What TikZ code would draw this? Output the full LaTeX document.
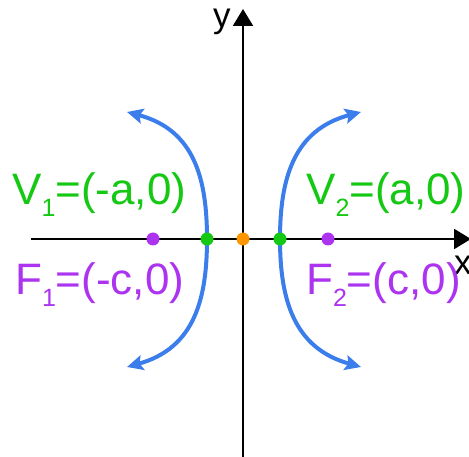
\documentclass[tikz,border=0pt]{standalone}
\usepackage{fontspec}
\setmainfont{Liberation Sans}
\usetikzlibrary{arrows.meta}
\definecolor{hblue}{RGB}{58,125,235}
\definecolor{hgreen}{RGB}{20,200,20}
\definecolor{hpurple}{RGB}{172,52,240}
\definecolor{horange}{RGB}{255,150,0}
\newcommand{\sbs}[1]{\raisebox{-12pt}{\fontsize{25}{25}\selectfont #1}}
\tikzset{
  axis/.style={line width=2.2pt, -{Triangle[length=17pt,width=20pt]}},
  arm/.style={hblue, line width=4pt, {Stealth[length=16pt,width=15pt,inset=3pt]}-{Stealth[length=16pt,width=15pt,inset=3pt]}},
  dot/.style={circle, fill=#1, inner sep=0pt, minimum size=13pt},
  lbl/.style={anchor=base west, inner sep=0pt, font=\fontsize{44}{50}\selectfont},
  axlbl/.style={anchor=base west, inner sep=0pt, font=\fontsize{35}{40}\selectfont}
}
\begin{document}
\begin{tikzpicture}[x=1pt,y=-1pt]
\useasboundingbox (0,0) rectangle (469,457);
% axes
\coordinate (xs) at (31,239);
\coordinate (xe) at (471,239);
\coordinate (ys) at (243,460);
\coordinate (ye) at (243,9);
\draw[axis] (xs) -- (xe);
\draw[axis] (ys) -- (ye);
\node[axlbl] (ylab) at (213,28) {y};
\node[axlbl] (xlab) at (454,275) {x};
% hyperbola arms
\coordinate (L1) at (127,112);
\coordinate (L2) at (127,367);
\coordinate (R1) at (361,112);
\coordinate (R2) at (361,367);
\coordinate (V1c) at (207,239);
\coordinate (V2c) at (280,239);
\draw[arm] (L2) .. controls (195,348) and (207,298) .. (V1c)
               .. controls (207,180) and (195,130) .. (L1);
\draw[arm] (R2) .. controls (293,348) and (280,298) .. (V2c)
               .. controls (280,180) and (293,130) .. (R1);
% points
\node[dot=hpurple] (F1) at (153,239) {};
\node[dot=hgreen] (V1) at (207,239) {};
\node[dot=horange] (O) at (243,239) {};
\node[dot=hgreen] (V2) at (280,239) {};
\node[dot=hpurple] (F2) at (328,239) {};
% labels
\node[lbl, text=hgreen] (tV1) at (12,205) {V\sbs{1}=(-a,0)};
\node[lbl, text=hgreen] (tV2) at (306,205) {V\sbs{2}=(a,0)};
\node[lbl, text=hpurple] (tF1) at (15,295) {F\sbs{1}=(-c,0)};
\node[lbl, text=hpurple] (tF2) at (306,295) {F\sbs{2}=(c,0)};
\end{tikzpicture}
\end{document}
